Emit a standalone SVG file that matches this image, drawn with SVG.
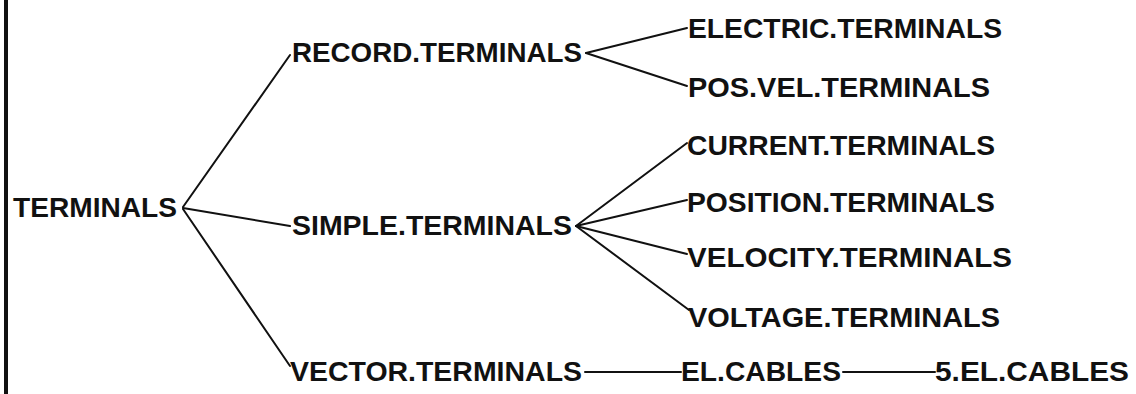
<svg xmlns="http://www.w3.org/2000/svg" width="1136" height="394" viewBox="0 0 1136 394">
<style>
.t{font-family:"Liberation Sans",Arial,sans-serif;font-weight:bold;font-size:28px;fill:#111}
.c line{stroke:#111;stroke-width:2;stroke-linecap:round}
</style>
<rect width="1136" height="394" fill="#fff"/>
<rect id="border" x="4" y="0" width="4" height="394" fill="#111"/>
<g class="c" id="connectors">
<line x1="183" y1="207" x2="290" y2="55"/>
<line x1="183" y1="208" x2="290" y2="226"/>
<line x1="183" y1="209" x2="290" y2="366"/>
<line x1="586" y1="53" x2="687" y2="28"/>
<line x1="586" y1="53" x2="687" y2="86"/>
<line x1="576" y1="226" x2="687" y2="143"/>
<line x1="576" y1="226" x2="687" y2="200"/>
<line x1="576" y1="226" x2="687" y2="254"/>
<line x1="576" y1="226" x2="689" y2="310"/>
<line x1="585" y1="372" x2="681" y2="372"/>
<line x1="843" y1="372" x2="935" y2="372"/>
</g>
<g id="n-terminals"><text class="t" x="13" y="217" textLength="164" lengthAdjust="spacingAndGlyphs">TERMINALS</text></g>
<g id="n-record"><text class="t" x="292" y="62" textLength="290" lengthAdjust="spacingAndGlyphs">RECORD.TERMINALS</text></g>
<g id="n-simple"><text class="t" x="292" y="235" textLength="280" lengthAdjust="spacingAndGlyphs">SIMPLE.TERMINALS</text></g>
<g id="n-vector"><text class="t" x="290" y="381" textLength="292" lengthAdjust="spacingAndGlyphs">VECTOR.TERMINALS</text></g>
<g id="n-electric"><text class="t" x="688" y="38" textLength="314" lengthAdjust="spacingAndGlyphs">ELECTRIC.TERMINALS</text></g>
<g id="n-posvel"><text class="t" x="688" y="97" textLength="302" lengthAdjust="spacingAndGlyphs">POS.VEL.TERMINALS</text></g>
<g id="n-current"><text class="t" x="687" y="155" textLength="308" lengthAdjust="spacingAndGlyphs">CURRENT.TERMINALS</text></g>
<g id="n-position"><text class="t" x="687" y="212" textLength="308" lengthAdjust="spacingAndGlyphs">POSITION.TERMINALS</text></g>
<g id="n-velocity"><text class="t" x="687" y="267" textLength="325" lengthAdjust="spacingAndGlyphs">VELOCITY.TERMINALS</text></g>
<g id="n-voltage"><text class="t" x="688" y="327" textLength="312" lengthAdjust="spacingAndGlyphs">VOLTAGE.TERMINALS</text></g>
<g id="n-elcables"><text class="t" x="681" y="381" textLength="160" lengthAdjust="spacingAndGlyphs">EL.CABLES</text></g>
<g id="n-5elcables"><text class="t" x="935" y="381" textLength="194" lengthAdjust="spacingAndGlyphs">5.EL.CABLES</text></g>
</svg>
